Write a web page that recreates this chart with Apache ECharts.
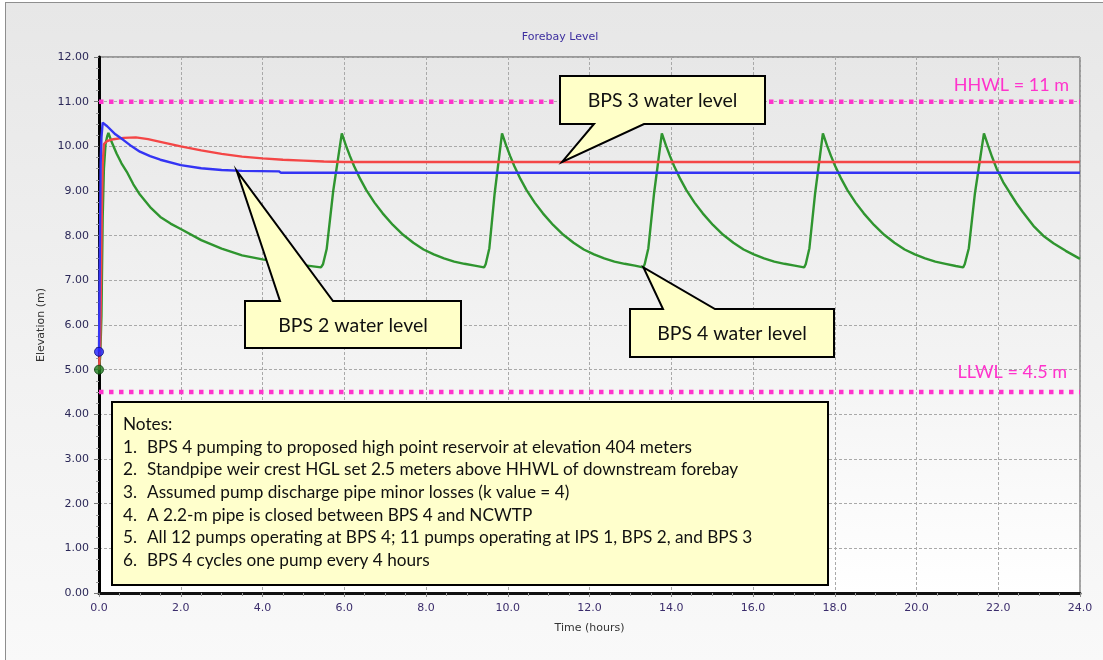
<!DOCTYPE html>
<html>
<head>
<meta charset="utf-8">
<script src="https://cdn.jsdelivr.net/npm/echarts@6/dist/echarts.min.js"></script>
<style>
  html, body { margin: 0; padding: 0; background: #ffffff; }
  #frame {
    position: absolute; left: 5px; top: 2px; width: 1200px; height: 720px;
    border: 1.5px solid #8e8e8e;
    background: linear-gradient(to bottom, #e7e7e7 0px, #f0f0f0 300px, #f9f9f9 660px);
  }
  #chart { position: absolute; left: 0; top: 0; width: 1103px; height: 660px; }
</style>
</head>
<body>
<div id="frame"></div>
<div id="chart"></div>
<script>
// ---- chart text ----
const chartTitle = 'Forebay Level';
const xAxisName = 'Time (hours)';
const yAxisName = 'Elevation (m)';

// ---- water levels, [time (h), elevation (m)] ----
const bps2Level = [
  [0, 5.4], [0.02, 7.6], [0.04, 9.6], [0.06, 10.2], [0.09, 10.53], [0.2, 10.45],
  [0.4, 10.27], [0.6, 10.14], [0.8, 10.0], [1.0, 9.88], [1.25, 9.78], [1.5, 9.7],
  [2.0, 9.58], [2.5, 9.51], [3.0, 9.47], [3.5, 9.45], [4.4, 9.44], [4.45, 9.41], [24, 9.41]
];
const bps3Level = [
  [0, 5.0], [0.03, 5.6], [0.05, 7.0], [0.07, 8.6], [0.09, 9.6], [0.12, 10.05], [0.2, 10.12],
  [0.35, 10.16], [0.6, 10.19], [0.9, 10.2], [1.2, 10.16], [1.5, 10.1], [2.0, 10.0],
  [2.5, 9.91], [3.0, 9.83], [3.5, 9.77], [4.0, 9.73], [4.5, 9.7], [5.0, 9.68], [5.5, 9.66],
  [6.0, 9.65], [24, 9.65]
];
const bps4Level = [
  [0, 5.0], [0.03, 5.3], [0.06, 6.2], [0.09, 8.4], [0.12, 9.5], [0.16, 10.05], [0.2, 10.22],
  [0.23, 10.3], [0.3, 10.12], [0.43, 9.84], [0.55, 9.62], [0.68, 9.43], [0.84, 9.15], [1.0, 8.92],
  [1.25, 8.64], [1.5, 8.42], [1.75, 8.27], [2.0, 8.15], [2.5, 7.9], [3.0, 7.71], [3.5, 7.56],
  [4.0, 7.47], [4.5, 7.4], [5.0, 7.34], [5.43, 7.29],
  [5.48, 7.36], [5.57, 7.7], [5.73, 9.0], [5.94, 10.29],
  [6.04, 10.02], [6.14, 9.78], [6.24, 9.56], [6.39, 9.27], [6.54, 9.02], [6.74, 8.74], [6.94, 8.5],
  [7.19, 8.24], [7.44, 8.02], [7.69, 7.84], [7.94, 7.69], [8.19, 7.58], [8.44, 7.49], [8.69, 7.42],
  [8.94, 7.37], [9.19, 7.33], [9.42, 7.29],
  [9.46, 7.36], [9.55, 7.72], [9.68, 8.95], [9.86, 10.29],
  [9.96, 10.02], [10.06, 9.78], [10.16, 9.56], [10.31, 9.27], [10.46, 9.02], [10.66, 8.74], [10.86, 8.5],
  [11.11, 8.24], [11.36, 8.02], [11.61, 7.84], [11.86, 7.69], [12.11, 7.58], [12.36, 7.49], [12.61, 7.42],
  [12.86, 7.37], [13.11, 7.33], [13.31, 7.29],
  [13.35, 7.36], [13.44, 7.72], [13.58, 8.95], [13.77, 10.29],
  [13.87, 10.02], [13.97, 9.78], [14.07, 9.56], [14.22, 9.27], [14.37, 9.02], [14.57, 8.74], [14.77, 8.5],
  [15.02, 8.24], [15.27, 8.02], [15.52, 7.84], [15.77, 7.69], [16.02, 7.58], [16.27, 7.49], [16.52, 7.42],
  [16.77, 7.37], [17.02, 7.33], [17.25, 7.29],
  [17.29, 7.36], [17.38, 7.72], [17.52, 8.95], [17.71, 10.29],
  [17.81, 10.02], [17.91, 9.78], [18.01, 9.56], [18.16, 9.27], [18.31, 9.02], [18.51, 8.74], [18.71, 8.5],
  [18.96, 8.24], [19.21, 8.02], [19.46, 7.84], [19.71, 7.69], [19.96, 7.58], [20.21, 7.49], [20.46, 7.42],
  [20.71, 7.37], [20.96, 7.32], [21.14, 7.29],
  [21.18, 7.36], [21.28, 7.72], [21.43, 8.95], [21.65, 10.29],
  [21.75, 10.02], [21.85, 9.76], [21.96, 9.5], [22.12, 9.2], [22.29, 8.95], [22.45, 8.72],
  [22.6, 8.53], [22.86, 8.22], [23.1, 8.0], [23.35, 7.83], [23.65, 7.66], [24.0, 7.48]
];

// ---- forebay limits ----
const hhwl = 11;
const llwl = 4.5;
const limitLabels = ['HHWL = 11 m', 'LLWL = 4.5 m'];

// ---- callouts: text and the point each one points at ----
const calloutTexts = ['BPS 3 water level', 'BPS 2 water level', 'BPS 4 water level'];
const calloutTargets = [[11.33, 9.65], [3.37, 9.45], [13.32, 7.29]];

// ---- notes ----
const notesHeading = 'Notes:';
const noteItems = [
  'BPS 4 pumping to proposed high point reservoir at elevation 404 meters',
  'Standpipe weir crest HGL set 2.5 meters above HHWL of downstream forebay',
  'Assumed pump discharge pipe minor losses (k value = 4)',
  'A 2.2-m pipe is closed between BPS 4 and NCWTP',
  'All 12 pumps operating at BPS 4; 11 pumps operating at IPS 1, BPS 2, and BPS 3',
  'BPS 4 cycles one pump every 4 hours'
];

// ---- colours and layout ----
const colors = { bps2: '#3434f4', bps3: '#f44646', bps4: '#2f952f', limit: '#ff33cc' };
const noteFont = 'Lato, "Open Sans", sans-serif';
const axisFont = '"DejaVu Sans", Verdana, sans-serif';
// callout boxes in pixels: [left, top, right, bottom], pointer base [x1, x2], pointer side
const calloutBoxes = [
  { rect: [560, 76, 765, 124], base: [594, 644], side: 'bottom' },
  { rect: [245, 301, 461, 348], base: [280, 333], side: 'top' },
  { rect: [630, 309, 834, 357], base: [663, 715], side: 'top' }
];
const notesBox = { x: 112, y: 402, w: 716, h: 183, textX: 123, itemX: 147, firstY: 424.5, step: 22.65 };

const chart = echarts.init(document.getElementById('chart'), null, { renderer: 'canvas' });

const lineSeries = (name, data, color, z) => ({
  name, type: 'line', data, symbol: 'none', smooth: false, z,
  lineStyle: { color, width: 2.4 }, animation: false
});
const limitSeries = (name, value) => ({
  name, type: 'line', data: [[0, value], [24, value]], symbol: 'none', z: 1, silent: true,
  lineStyle: { color: colors.limit, width: 4.5, type: [4.5, 5.5], cap: 'butt' }, animation: false
});

chart.setOption({
  animation: false,
  backgroundColor: 'transparent',
  grid: {
    left: 99, right: 23, top: 57, bottom: 67, show: true,
    borderColor: '#4a4a4a', borderWidth: 1,
    backgroundColor: new echarts.graphic.LinearGradient(0, 0, 0, 1, [
      { offset: 0, color: '#e7e7e7' }, { offset: 0.55, color: '#f3f3f3' }, { offset: 1, color: '#ffffff' }
    ])
  },
  xAxis: {
    type: 'value', min: 0, max: 24, interval: 2,
    name: xAxisName, nameLocation: 'middle', nameGap: 30,
    nameTextStyle: { fontFamily: axisFont, fontSize: 11, color: '#333' },
    axisLine: { show: true, onZero: false, lineStyle: { color: '#111', width: 3 } },
    axisTick: { show: true, length: 4, lineStyle: { color: '#888' } },
    minorTick: { show: true, splitNumber: 4, length: 3, lineStyle: { color: '#999' } },
    axisLabel: { margin: 10, fontFamily: axisFont, fontSize: 11, color: '#3b2d6c',
      formatter: v => v.toFixed(1) },
    splitLine: { show: true, lineStyle: { color: '#a9a9a9', type: [3, 2], width: 1 } }
  },
  yAxis: {
    type: 'value', min: 0, max: 12, interval: 1,
    name: yAxisName, nameLocation: 'middle', nameGap: 50, nameRotate: 90,
    nameTextStyle: { fontFamily: axisFont, fontSize: 11, color: '#333' },
    axisLine: { show: true, onZero: false, lineStyle: { color: '#000', width: 3 } },
    axisTick: { show: true, length: 5, lineStyle: { color: '#777' } },
    minorTick: { show: true, splitNumber: 4, length: 3, lineStyle: { color: '#999' } },
    axisLabel: { margin: 10, fontFamily: axisFont, fontSize: 11, color: '#2b2858',
      formatter: v => v.toFixed(2) },
    splitLine: { show: true, lineStyle: { color: '#a9a9a9', type: [3, 2], width: 1 } }
  },
  series: [
    limitSeries('HHWL', hhwl),
    limitSeries('LLWL', llwl),
    lineSeries('BPS 4', bps4Level, colors.bps4, 3),
    lineSeries('BPS 3', bps3Level, colors.bps3, 4),
    lineSeries('BPS 2', bps2Level, colors.bps2, 5),
    {
      name: 'start', type: 'scatter', z: 6, symbolSize: 9, animation: false, silent: true,
      data: [
        { value: bps2Level[0], itemStyle: { color: '#2020ff', borderColor: '#0a0a80', borderWidth: 1 } },
        { value: bps4Level[0], itemStyle: { color: '#1f7f1f', borderColor: '#0b3d0b', borderWidth: 1 } }
      ]
    }
  ]
});

function toPx(pt) { return chart.convertToPixel({ gridIndex: 0 }, pt); }

function textEl(text, x, y, font, color, align, vAlign, z) {
  return {
    type: 'text', x, y, z: z || 20, silent: true,
    style: { text, font, fill: color, align: align || 'left', verticalAlign: vAlign || 'middle',
      textAlign: align || 'left', textVerticalAlign: vAlign || 'middle' }
  };
}

function buildGraphics() {
  const els = [];
  // title
  els.push(textEl(chartTitle, 560, 37, '11px ' + axisFont, '#3c2e9f', 'center', 'middle'));

  // limit labels
  const right = toPx([24, hhwl])[0];
  els.push(textEl(limitLabels[0], right - 11, toPx([24, hhwl])[1] - 16, '18px ' + noteFont, colors.limit, 'right', 'middle'));
  els.push(textEl(limitLabels[1], right - 13, toPx([24, llwl])[1] - 20, '18px ' + noteFont, colors.limit, 'right', 'middle'));

  // callouts
  calloutBoxes.forEach((b, i) => {
    const [x0, y0, x1, y1] = b.rect;
    const tip = toPx(calloutTargets[i]);
    const pts = b.side === 'top'
      ? [[x0, y0], [b.base[0], y0], tip, [b.base[1], y0], [x1, y0], [x1, y1], [x0, y1]]
      : [[x0, y0], [x1, y0], [x1, y1], [b.base[1], y1], tip, [b.base[0], y1], [x0, y1]];
    els.push({
      type: 'polygon', z: 15, silent: true,
      shape: { points: pts },
      style: { fill: '#ffffc8', stroke: '#000', lineWidth: 2, lineJoin: 'miter' }
    });
    els.push(textEl(calloutTexts[i], (x0 + x1) / 2, (y0 + y1) / 2 + 1, '19.5px ' + noteFont, '#111', 'center', 'middle', 16));
  });

  // notes box
  const n = notesBox;
  els.push({
    type: 'rect', z: 15, silent: true,
    shape: { x: n.x, y: n.y, width: n.w, height: n.h },
    style: { fill: '#ffffcc', stroke: '#000', lineWidth: 2 }
  });
  const nf = '17.2px ' + noteFont;
  els.push(textEl(notesHeading, n.textX, n.firstY, nf, '#111', 'left', 'middle', 16));
  noteItems.forEach((t, i) => {
    const y = n.firstY + n.step * (i + 1);
    els.push(textEl((i + 1) + '.', n.textX, y, nf, '#111', 'left', 'middle', 16));
    els.push(textEl(t, n.itemX, y, nf, '#111', 'left', 'middle', 16));
  });
  return els;
}

chart.setOption({ graphic: { elements: buildGraphics() } });
</script>
</body>
</html>
